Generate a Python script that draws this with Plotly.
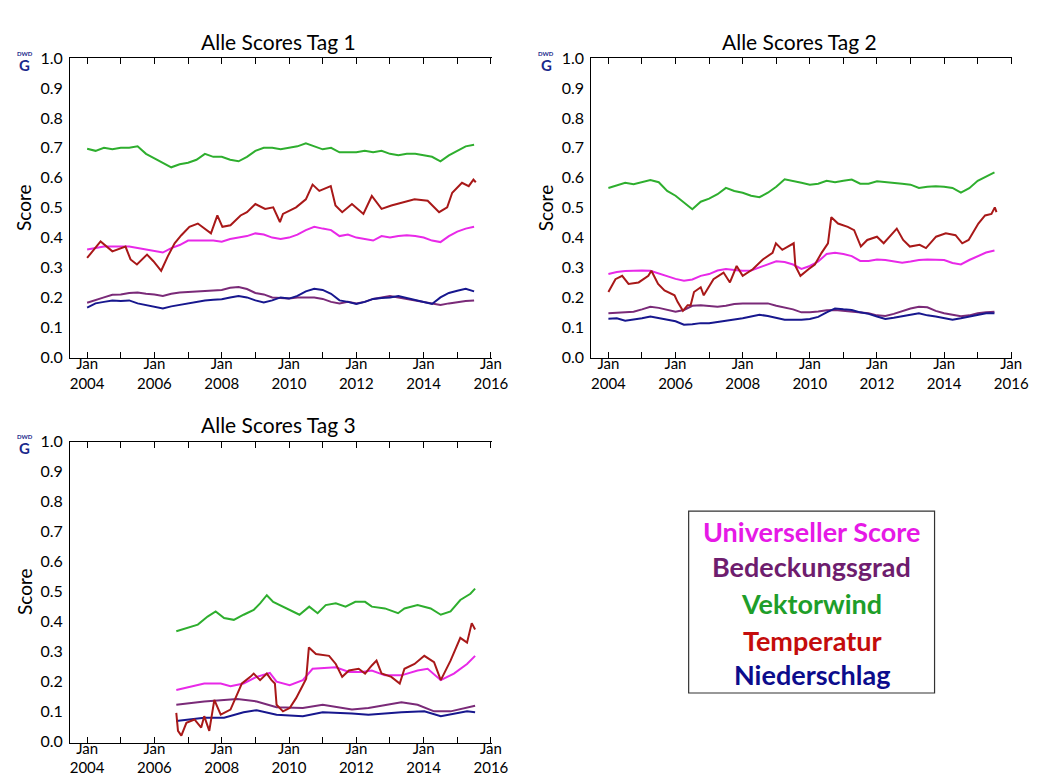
import plotly.graph_objects as go

# decimal years, quarterly grid used by the smooth series of Tag 1 and Tag 2
QUARTERS = [2004.0, 2004.25, 2004.5, 2004.75, 2005.0, 2005.25, 2005.5, 2005.75,
            2006.0, 2006.25, 2006.5, 2006.75, 2007.0, 2007.25, 2007.5, 2007.75,
            2008.0, 2008.25, 2008.5, 2008.75, 2009.0, 2009.25, 2009.5, 2009.75,
            2010.0, 2010.25, 2010.5, 2010.75, 2011.0, 2011.25, 2011.5, 2011.75,
            2012.0, 2012.25, 2012.5, 2012.75, 2013.0, 2013.25, 2013.5, 2013.75,
            2014.0, 2014.25, 2014.5, 2014.75, 2015.0, 2015.25, 2015.5]

# ---- Tag 1 ----
WIND_1 = [0.697, 0.69, 0.70, 0.695, 0.70, 0.70, 0.705, 0.68, 0.665, 0.65, 0.635, 0.645,
          0.65, 0.66, 0.68, 0.67, 0.67, 0.66, 0.655, 0.67, 0.69, 0.70, 0.70, 0.695,
          0.70, 0.705, 0.715, 0.705, 0.695, 0.70, 0.685, 0.685, 0.685, 0.69, 0.685, 0.69,
          0.68, 0.675, 0.68, 0.68, 0.675, 0.67, 0.655, 0.675, 0.69, 0.705, 0.71]
UNI_1 = [0.36, 0.365, 0.37, 0.37, 0.37, 0.37, 0.365, 0.36, 0.355, 0.35, 0.365, 0.375,
         0.39, 0.39, 0.39, 0.39, 0.386, 0.395, 0.40, 0.405, 0.414, 0.41, 0.40, 0.395,
         0.40, 0.41, 0.425, 0.436, 0.43, 0.425, 0.405, 0.41, 0.40, 0.395, 0.39, 0.405,
         0.40, 0.405, 0.408, 0.405, 0.40, 0.39, 0.385, 0.405, 0.42, 0.43, 0.436]
CLOUD_1 = [0.182, 0.19, 0.20, 0.209, 0.21, 0.215, 0.216, 0.212, 0.21, 0.205, 0.212, 0.216,
           0.218, 0.22, 0.22, 0.222, 0.225, 0.232, 0.235, 0.228, 0.215, 0.21, 0.20, 0.198,
           0.196, 0.20, 0.20, 0.20, 0.195, 0.185, 0.18, 0.185, 0.18, 0.185, 0.195, 0.20,
           0.205, 0.20, 0.195, 0.19, 0.185, 0.18, 0.175, 0.18, 0.185, 0.188, 0.19]
RAIN_1 = [0.166, 0.18, 0.185, 0.19, 0.188, 0.19, 0.18, 0.175, 0.17, 0.163, 0.17, 0.175,
          0.18, 0.185, 0.19, 0.192, 0.194, 0.20, 0.205, 0.20, 0.19, 0.183, 0.19, 0.20,
          0.196, 0.205, 0.22, 0.229, 0.225, 0.212, 0.19, 0.185, 0.178, 0.185, 0.195, 0.198,
          0.20, 0.205, 0.198, 0.19, 0.183, 0.178, 0.20, 0.215, 0.222, 0.229, 0.22]
TEMP_1_YEARS = [2004.0, 2004.4, 2004.75, 2005.14, 2005.29, 2005.48, 2005.78, 2005.97,
                2006.2, 2006.4, 2006.6, 2006.8, 2007.04, 2007.29, 2007.68, 2007.87,
                2008.02, 2008.26, 2008.56, 2008.75, 2009.0, 2009.29, 2009.53, 2009.73,
                2009.82, 2010.21, 2010.5, 2010.7, 2010.9, 2011.24, 2011.38, 2011.58,
                2011.87, 2012.21, 2012.46, 2012.75, 2013.04, 2013.39, 2013.73, 2014.12,
                2014.46, 2014.7, 2014.85, 2015.14, 2015.34, 2015.48, 2015.55]
TEMP_1 = [0.332, 0.387, 0.354, 0.37, 0.327, 0.31, 0.343, 0.321, 0.289, 0.338, 0.381, 0.408,
          0.436, 0.447, 0.414, 0.474, 0.436, 0.441, 0.474, 0.485, 0.512, 0.496, 0.501, 0.452,
          0.479, 0.501, 0.528, 0.577, 0.556, 0.572, 0.507, 0.485, 0.512, 0.479, 0.539, 0.496,
          0.507, 0.517, 0.528, 0.523, 0.485, 0.501, 0.55, 0.583, 0.572, 0.594, 0.585]

# ---- Tag 2 ----
WIND_2 = [0.566, 0.575, 0.583, 0.578, 0.585, 0.592, 0.585, 0.556, 0.54, 0.517, 0.495, 0.52,
          0.53, 0.545, 0.566, 0.556, 0.55, 0.54, 0.535, 0.55, 0.57, 0.595, 0.59, 0.583,
          0.577, 0.58, 0.59, 0.585, 0.59, 0.594, 0.58, 0.58, 0.588, 0.586, 0.583, 0.58,
          0.577, 0.566, 0.57, 0.572, 0.57, 0.566, 0.55, 0.565, 0.59, 0.605, 0.618]
UNI_2 = [0.278, 0.285, 0.288, 0.29, 0.29, 0.289, 0.28, 0.272, 0.262, 0.256, 0.26, 0.272,
         0.278, 0.29, 0.295, 0.292, 0.289, 0.29, 0.30, 0.31, 0.321, 0.318, 0.31, 0.295,
         0.305, 0.32, 0.345, 0.349, 0.345, 0.338, 0.322, 0.322, 0.327, 0.325, 0.32, 0.316,
         0.32, 0.325, 0.327, 0.326, 0.325, 0.315, 0.31, 0.325, 0.338, 0.35, 0.357]
CLOUD_2 = [0.147, 0.148, 0.15, 0.152, 0.16, 0.169, 0.165, 0.158, 0.152, 0.158, 0.172, 0.174,
           0.172, 0.169, 0.172, 0.178, 0.18, 0.18, 0.182, 0.18, 0.172, 0.165, 0.16, 0.15,
           0.15, 0.153, 0.157, 0.158, 0.155, 0.152, 0.15, 0.147, 0.14, 0.138, 0.145, 0.155,
           0.163, 0.169, 0.167, 0.155, 0.147, 0.142, 0.137, 0.14, 0.147, 0.15, 0.152]
RAIN_2 = [0.129, 0.13, 0.122, 0.125, 0.13, 0.136, 0.13, 0.125, 0.12, 0.109, 0.11, 0.114,
          0.114, 0.118, 0.122, 0.125, 0.13, 0.136, 0.142, 0.138, 0.132, 0.125, 0.125, 0.125,
          0.128, 0.135, 0.15, 0.163, 0.16, 0.158, 0.15, 0.145, 0.136, 0.128, 0.132, 0.138,
          0.142, 0.147, 0.14, 0.136, 0.13, 0.125, 0.13, 0.136, 0.142, 0.147, 0.147]
TEMP_2_YEARS = [2004.0, 2004.21, 2004.41, 2004.6, 2004.9, 2005.19, 2005.28, 2005.48, 2005.67,
                2005.97, 2006.06, 2006.22, 2006.36, 2006.45, 2006.55, 2006.75, 2006.84,
                2007.13, 2007.43, 2007.62, 2007.82, 2008.0, 2008.3, 2008.6, 2008.89, 2008.99,
                2009.18, 2009.37, 2009.52, 2009.57, 2009.72, 2009.96, 2010.15, 2010.35,
                2010.54, 2010.64, 2010.84, 2011.13, 2011.32, 2011.52, 2011.71, 2012.0, 2012.2,
                2012.59, 2012.78, 2012.98, 2013.27, 2013.46, 2013.76, 2014.05, 2014.34,
                2014.54, 2014.73, 2015.02, 2015.22, 2015.41, 2015.51, 2015.56]
TEMP_2 = [0.218, 0.261, 0.272, 0.245, 0.25, 0.272, 0.289, 0.245, 0.223, 0.207, 0.185, 0.155,
          0.174, 0.174, 0.218, 0.234, 0.207, 0.261, 0.283, 0.25, 0.305, 0.272, 0.294, 0.327,
          0.349, 0.381, 0.359, 0.37, 0.381, 0.305, 0.272, 0.294, 0.31, 0.349, 0.381, 0.468,
          0.447, 0.436, 0.425, 0.37, 0.392, 0.403, 0.381, 0.43, 0.392, 0.37, 0.376, 0.365,
          0.403, 0.414, 0.408, 0.381, 0.392, 0.447, 0.474, 0.479, 0.501, 0.485]

# ---- Tag 3 (starts autumn 2006) ----
WIND_3_YEARS = [2006.65, 2007.0, 2007.29, 2007.58, 2007.82, 2008.07, 2008.36, 2008.65,
                2008.95, 2009.14, 2009.34, 2009.53, 2009.82, 2010.12, 2010.31, 2010.6,
                2010.85, 2011.09, 2011.39, 2011.68, 2011.97, 2012.26, 2012.46, 2012.85,
                2013.24, 2013.43, 2013.82, 2014.21, 2014.51, 2014.8, 2015.09, 2015.39, 2015.53]
WIND_3 = [0.368, 0.379, 0.39, 0.417, 0.434, 0.412, 0.406, 0.423, 0.439, 0.461, 0.488, 0.466,
          0.45, 0.434, 0.423, 0.45, 0.428, 0.455, 0.461, 0.45, 0.466, 0.466, 0.45, 0.444,
          0.428, 0.444, 0.455, 0.444, 0.423, 0.434, 0.472, 0.493, 0.51]
UNI_3_YEARS = [2006.65, 2007.09, 2007.48, 2007.97, 2008.26, 2008.65, 2009.04, 2009.43,
               2009.63, 2010.02, 2010.41, 2010.7, 2011.39, 2011.78, 2012.17, 2012.46,
               2012.85, 2013.34, 2013.82, 2014.12, 2014.51, 2014.9, 2015.29, 2015.53]
UNI_3 = [0.172, 0.183, 0.194, 0.194, 0.185, 0.194, 0.216, 0.229, 0.20, 0.188, 0.205, 0.243,
         0.248, 0.232, 0.232, 0.237, 0.221, 0.221, 0.237, 0.243, 0.205, 0.227, 0.259, 0.286]
CLOUD_3_YEARS = [2006.65, 2007.48, 2008.46, 2009.04, 2009.63, 2010.41, 2011.0, 2011.87,
                 2012.36, 2013.34, 2013.82, 2014.31, 2014.8, 2015.29, 2015.53]
CLOUD_3 = [0.123, 0.134, 0.142, 0.134, 0.115, 0.112, 0.123, 0.107, 0.112, 0.131, 0.123,
           0.101, 0.101, 0.115, 0.12]
RAIN_3_YEARS = [2006.65, 2007.48, 2008.07, 2008.65, 2009.04, 2009.63, 2010.41, 2011.0,
                2011.87, 2012.36, 2013.34, 2014.02, 2014.51, 2014.9, 2015.29, 2015.53]
RAIN_3 = [0.069, 0.08, 0.08, 0.098, 0.105, 0.09, 0.085, 0.098, 0.094, 0.09, 0.098, 0.101,
          0.085, 0.094, 0.101, 0.098]
TEMP_3_YEARS = [2006.65, 2006.7, 2006.8, 2006.95, 2007.19, 2007.39, 2007.48, 2007.63, 2007.78,
                2007.97, 2008.26, 2008.46, 2008.6, 2008.85, 2008.95, 2009.14, 2009.34,
                2009.48, 2009.58, 2009.63, 2009.82, 2010.02, 2010.21, 2010.41, 2010.51,
                2010.59, 2010.8, 2011.19, 2011.39, 2011.58, 2011.78, 2012.07, 2012.26,
                2012.46, 2012.6, 2012.75, 2013.04, 2013.29, 2013.43, 2013.73, 2014.02,
                2014.31, 2014.51, 2014.8, 2015.09, 2015.29, 2015.43, 2015.53]
TEMP_3 = [0.096, 0.036, 0.02, 0.063, 0.074, 0.047, 0.085, 0.036, 0.139, 0.09, 0.107, 0.156,
          0.194, 0.216, 0.227, 0.205, 0.227, 0.205, 0.194, 0.123, 0.101, 0.112, 0.145, 0.188,
          0.21, 0.314, 0.292, 0.286, 0.259, 0.216, 0.237, 0.243, 0.227, 0.254, 0.27, 0.227,
          0.216, 0.194, 0.243, 0.259, 0.286, 0.265, 0.205, 0.27, 0.346, 0.33, 0.395, 0.374]

TICK_YEARS = [2004, 2006, 2008, 2010, 2012, 2014, 2016]
TICK_TEXT = ["Jan<br>2004", "Jan<br>2006", "Jan<br>2008", "Jan<br>2010",
             "Jan<br>2012", "Jan<br>2014", "Jan<br>2016"]
PANEL_TITLES = ["Alle Scores Tag 1", "Alle Scores Tag 2", "Alle Scores Tag 3"]
LEGEND_NAMES = ["Universeller Score", "Bedeckungsgrad", "Vektorwind", "Temperatur", "Niederschlag"]

LINE_COLORS = {"uni": "#e829e8", "cloud": "#7a2a78", "wind": "#2eae2e",
               "temp": "#a81818", "rain": "#17178e"}
TEXT_COLORS = ["#e619e6", "#6e1d6e", "#1e9e2a", "#c40c0c", "#0c0c8c"]
FONT = "Lato, 'Open Sans', sans-serif"

W, H = 1037, 781

panels = [
    dict(wind=(QUARTERS, WIND_1), uni=(QUARTERS, UNI_1), cloud=(QUARTERS, CLOUD_1),
         rain=(QUARTERS, RAIN_1), temp=(TEMP_1_YEARS, TEMP_1)),
    dict(wind=(QUARTERS, WIND_2), uni=(QUARTERS, UNI_2), cloud=(QUARTERS, CLOUD_2),
         rain=(QUARTERS, RAIN_2), temp=(TEMP_2_YEARS, TEMP_2)),
    dict(wind=(WIND_3_YEARS, WIND_3), uni=(UNI_3_YEARS, UNI_3), cloud=(CLOUD_3_YEARS, CLOUD_3),
         rain=(RAIN_3_YEARS, RAIN_3), temp=(TEMP_3_YEARS, TEMP_3)),
]

# plot-area boxes in pixels: left, right, top, bottom
boxes = [(63, 492, 41, 348), (593, 1021, 41, 348), (63, 492, 433, 741)]

fig = go.Figure()
annotations = []

for i, (panel, box) in enumerate(zip(panels, boxes)):
    n = "" if i == 0 else str(i + 1)
    for key in ["uni", "cloud", "wind", "rain", "temp"]:
        xs, ys = panel[key]
        fig.add_trace(go.Scatter(
            x=xs, y=ys, mode="lines", xaxis="x" + n, yaxis="y" + n,
            line=dict(color=LINE_COLORS[key], width=2),
            hoverinfo="skip",
        ))
    l, r, t, b = box
    fig.layout["xaxis" + n] = dict(
        domain=[l / W, r / W], anchor="y" + n,
        range=[2003.49, 2016.03],
        tickmode="array", tickvals=TICK_YEARS, ticktext=TICK_TEXT,
        ticks="inside", ticklen=6, tickcolor="black", tickwidth=1,
        ticklabelstandoff=-8,
        minor=dict(tickmode="linear", tick0=2004, dtick=1, ticks="inside",
                   ticklen=6, tickcolor="black"),
        showline=True, linecolor="black", linewidth=1, mirror="ticks",
        showgrid=False, zeroline=False,
        tickfont=dict(size=15, color="black"),
    )
    fig.layout["yaxis" + n] = dict(
        domain=[1 - b / H, 1 - t / H], anchor="x" + n,
        range=[-0.004, 1.0], dtick=0.1, tickformat=".1f",
        showline=True, linecolor="black", linewidth=1,
        ticks="", showgrid=False, zeroline=False, ticklabelstandoff=3,
        tickfont=dict(size=16, color="black"),
    )
    annotations.append(dict(
        text=PANEL_TITLES[i], x=(l + r - 5) / 2 / W, y=1 - (t - 17) / H,
        xref="paper", yref="paper", showarrow=False,
        font=dict(size=21, color="black"), xanchor="center", yanchor="middle",
    ))
    annotations.append(dict(
        text="Score", x=(l - 47) / W, y=1 - ((t + b) / 2) / H,
        xref="paper", yref="paper", showarrow=False, textangle=-90,
        font=dict(size=19, color="black"), xanchor="center", yanchor="middle",
    ))
    # small DWD logo stand-in
    annotations.append(dict(
        text="<b>DWD</b>", x=(l - 46) / W, y=1 - (t - 5) / H,
        xref="paper", yref="paper", showarrow=False,
        font=dict(size=6, color="#1a2a8c"), xanchor="center", yanchor="middle",
    ))
    annotations.append(dict(
        text="<b>G</b>", x=(l - 46) / W, y=1 - (t + 7) / H,
        xref="paper", yref="paper", showarrow=False,
        font=dict(size=15, color="#1a2a8c"), xanchor="center", yanchor="middle",
    ))

# text legend box
legend_rows = [525, 561, 599, 636, 671]
for name, color, yy in zip(LEGEND_NAMES, TEXT_COLORS, legend_rows):
    annotations.append(dict(
        text=f"<b>{name}</b>", x=817 / W, y=1 - yy / H,
        xref="paper", yref="paper", showarrow=False,
        font=dict(size=27, color=color), xanchor="center", yanchor="middle",
    ))

fig.update_layout(
    width=W, height=H,
    margin=dict(l=0, r=0, t=0, b=0),
    paper_bgcolor="white", plot_bgcolor="white",
    showlegend=False,
    font=dict(family=FONT, color="black"),
    annotations=annotations,
    shapes=[dict(type="rect", xref="paper", yref="paper",
                 x0=692 / W, x1=942 / W, y0=1 - 690 / H, y1=1 - 504 / H,
                 line=dict(color="#333", width=1.2), fillcolor="rgba(0,0,0,0)")],
)

fig.write_html("out.html")
